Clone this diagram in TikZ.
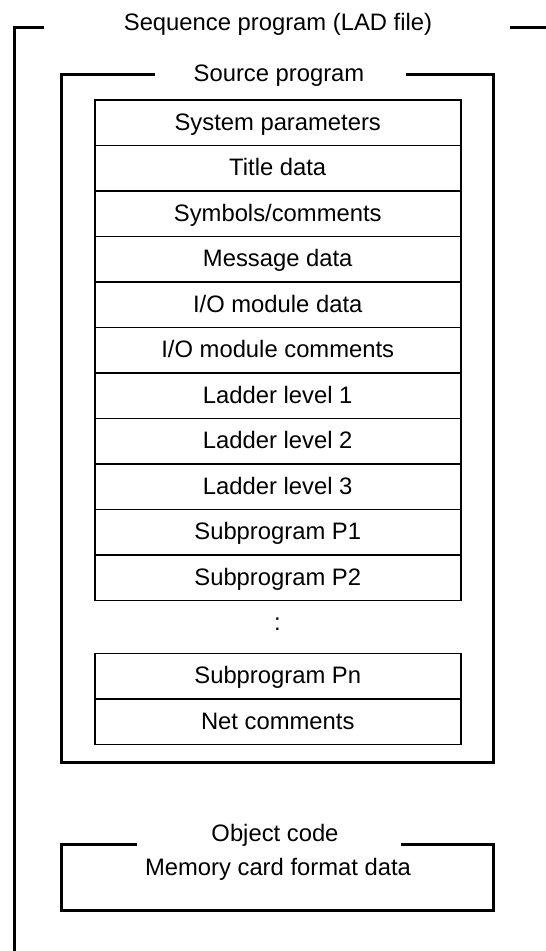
\documentclass[tikz,border=0pt]{standalone}
\usepackage{fontspec}
\setmainfont{Liberation Sans}
\begin{document}
\begin{tikzpicture}[x=1pt,y=-1pt,
  lbl/.style={inner sep=0pt, anchor=base, font=\fontsize{23.8}{28}\selectfont},
  row/.style={draw, line width=1.8pt, minimum width=366.3pt, minimum height=45.5pt,
    inner sep=0pt, anchor=north west, text height=15pt, text depth=0pt,
    font=\fontsize{23.8}{28}\selectfont},
  frameline/.style={line width=3pt, line join=miter, line cap=butt}]
\useasboundingbox (0,0) rectangle (546,951);
% outer frame
\node[lbl] (seqtitle) at (278,30.5) {Sequence program (LAD file)};
\draw[frameline] (44,27.5) -- (14,27.5) -- (14,960);
\draw[frameline] (510,27.5) -- (550,27.5);
% source program box
\node[lbl] (srctitle) at (279,81) {Source program};
\draw[frameline] (155,74) -- (61.5,74) -- (61.5,762) -- (493,762) -- (493,74) -- (406,74);
% rows
\node[row] (r0) at (93.7,99) {System parameters};
\node[row] (r1) at (93.7,144.5) {Title data};
\node[row] (r2) at (93.7,190) {Symbols/comments};
\node[row] (r3) at (93.7,235.5) {Message data};
\node[row] (r4) at (93.7,281) {I/O module data};
\node[row] (r5) at (93.7,326.5) {I/O module comments};
\node[row] (r6) at (93.7,372) {Ladder level 1};
\node[row] (r7) at (93.7,417.5) {Ladder level 2};
\node[row] (r8) at (93.7,463) {Ladder level 3};
\node[row] (r9) at (93.7,508.5) {Subprogram P1};
\node[row] (r10) at (93.7,554) {Subprogram P2};
\node[lbl] (dots) at (277.5,630) {:};
\node[row] (rpn) at (93.7,652.5) {Subprogram Pn};
\node[row] (rnet) at (93.7,698) {Net comments};
% object code box
\node[lbl] (objtitle) at (275,841.7) {Object code};
\draw[frameline] (137,844) -- (61.5,844) -- (61.5,910) -- (493,910) -- (493,844) -- (401,844);
\node[lbl] (memcard) at (278,875) {Memory card format data};
\end{tikzpicture}
\end{document}
